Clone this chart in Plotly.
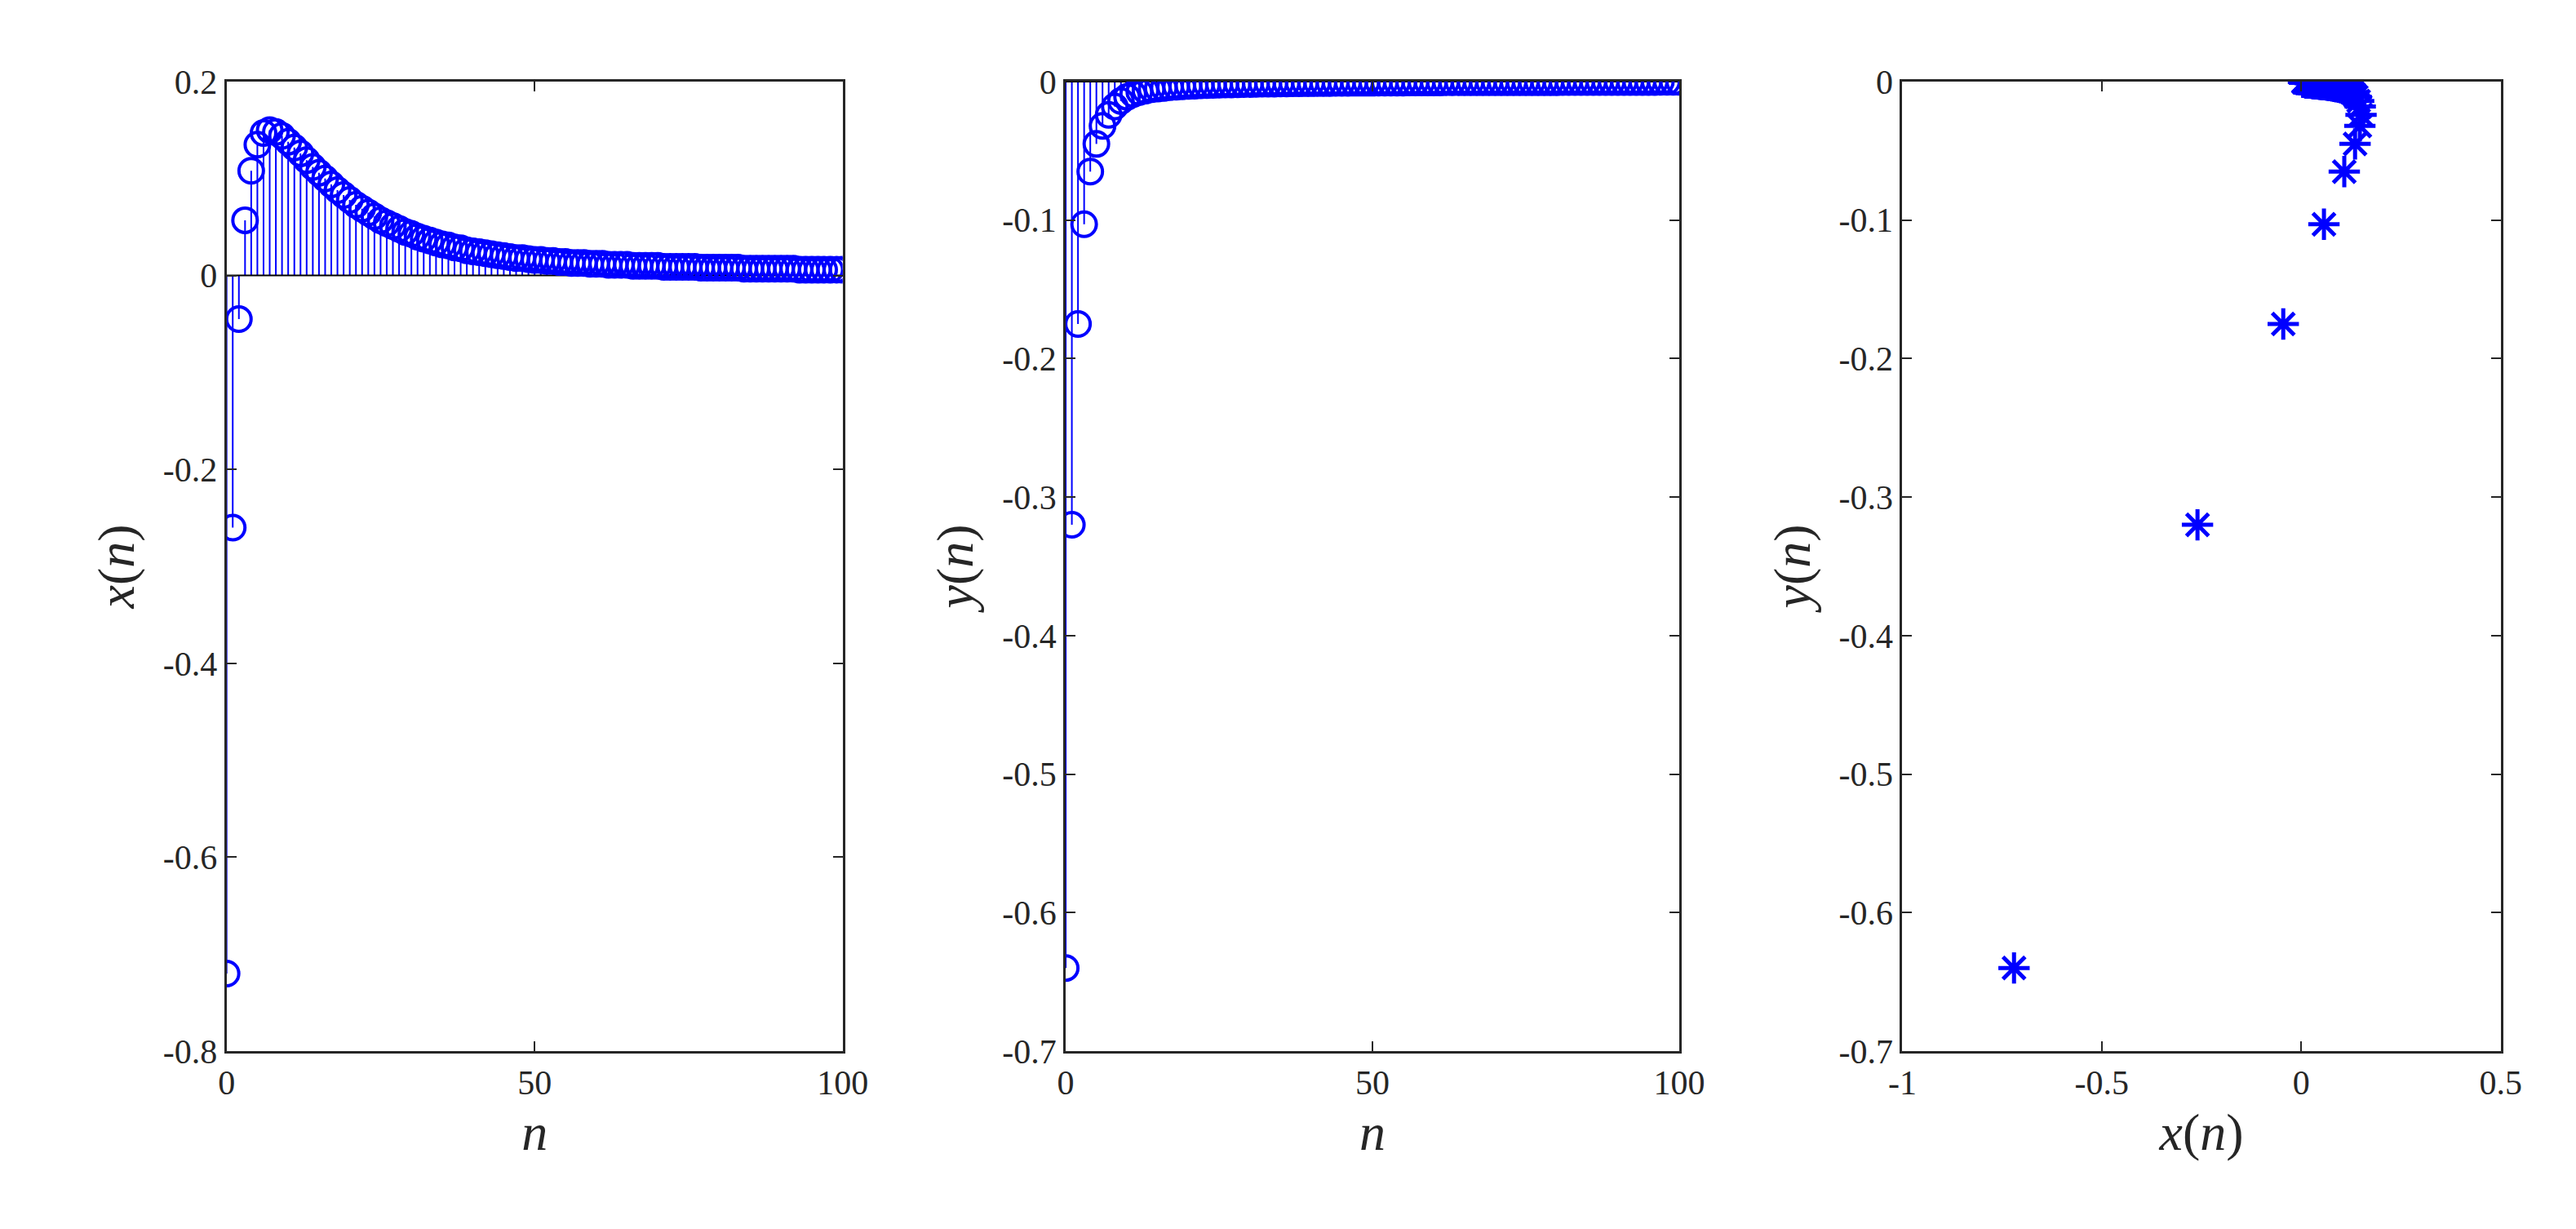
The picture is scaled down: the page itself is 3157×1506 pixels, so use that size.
import plotly.graph_objects as go

n = list(range(101))
x_vals = [-0.72, -0.26, -0.045, 0.057, 0.108, 0.135, 0.147, 0.150, 0.148, 0.144,
          0.138, 0.132, 0.126, 0.119, 0.112, 0.106, 0.100, 0.094, 0.088, 0.083,
          0.078, 0.073, 0.069, 0.065, 0.061, 0.057, 0.054, 0.051, 0.048, 0.045,
          0.043, 0.040, 0.038, 0.036, 0.034, 0.032, 0.031, 0.029, 0.028, 0.026,
          0.025, 0.024, 0.023, 0.022, 0.021, 0.020, 0.019, 0.018, 0.018, 0.017,
          0.016, 0.016, 0.015, 0.015, 0.014, 0.014, 0.013, 0.013, 0.013, 0.012,
          0.012, 0.012, 0.011, 0.011, 0.011, 0.011, 0.010, 0.010, 0.010, 0.010,
          0.010, 0.009, 0.009, 0.009, 0.009, 0.009, 0.009, 0.008, 0.008, 0.008,
          0.008, 0.008, 0.008, 0.008, 0.007, 0.007, 0.007, 0.007, 0.007, 0.007,
          0.007, 0.007, 0.007, 0.006, 0.006, 0.006, 0.006, 0.006, 0.006, 0.006, 0.006]
y_vals = [-0.64, -0.32, -0.175, -0.103, -0.065, -0.045, -0.032, -0.024, -0.018, -0.014,
          -0.011, -0.009, -0.0075, -0.0065, -0.0055, -0.005, -0.0045, -0.004, -0.0037, -0.0034,
          -0.0031, -0.0029, -0.0027, -0.0025, -0.0023, -0.0022, -0.0021, -0.002, -0.0019, -0.0018,
          -0.0017, -0.0016, -0.0015, -0.0015, -0.0014, -0.0013, -0.0013, -0.0012, -0.0012, -0.0011,
          -0.0011, -0.0010, -0.0010, -0.0010, -0.0009, -0.0009, -0.0009, -0.0008, -0.0008, -0.0008,
          -0.0008, -0.0007, -0.0007, -0.0007, -0.0007, -0.0007, -0.0006, -0.0006, -0.0006, -0.0006,
          -0.0006, -0.0006, -0.0005, -0.0005, -0.0005, -0.0005, -0.0005, -0.0005, -0.0005, -0.0005,
          -0.0004, -0.0004, -0.0004, -0.0004, -0.0004, -0.0004, -0.0004, -0.0004, -0.0004, -0.0004,
          -0.0004, -0.0003, -0.0003, -0.0003, -0.0003, -0.0003, -0.0003, -0.0003, -0.0003, -0.0003,
          -0.0003, -0.0003, -0.0003, -0.0003, -0.0003, -0.0003, -0.0003, -0.0002, -0.0002, -0.0002, -0.0002]

BLUE = "#0000ff"
FONT = "Liberation Serif"

def stems(xs, ys):
    sx, sy = [], []
    for a, b in zip(xs, ys):
        sx += [a, a, None]
        sy += [0, b, None]
    return sx, sy

fig = go.Figure()
for i, vals in enumerate([x_vals, y_vals]):
    ax = "" if i == 0 else "2"
    sx, sy = stems(n, vals)
    fig.add_trace(go.Scatter(x=sx, y=sy, mode="lines", line=dict(color=BLUE, width=2),
                             xaxis="x" + ax, yaxis="y" + ax, showlegend=False))
    fig.add_trace(go.Scatter(x=[0, 100], y=[0, 0], mode="lines", line=dict(color="black", width=2),
                             xaxis="x" + ax, yaxis="y" + ax, showlegend=False))
    fig.add_trace(go.Scatter(x=n, y=vals, mode="markers",
                             marker=dict(symbol="circle-open", size=30, color=BLUE, line=dict(width=4)),
                             xaxis="x" + ax, yaxis="y" + ax, showlegend=False))
fig.add_trace(go.Scatter(x=x_vals, y=y_vals, mode="markers",
                         marker=dict(symbol="asterisk-open", size=32, color=BLUE, line=dict(width=5, color=BLUE)),
                         xaxis="x3", yaxis="y3", showlegend=False))

common = dict(showgrid=False, zeroline=False, showline=True, linecolor="#262626", linewidth=3,
              mirror="ticks", ticks="inside", ticklen=12, tickwidth=2, tickcolor="#262626",
              tickfont=dict(family=FONT, size=42, color="#262626"))
lab = dict(family=FONT, size=64, color="#262626")
nlab = "<i>n</i>"
ticks07 = [-0.7, -0.6, -0.5, -0.4, -0.3, -0.2, -0.1, 0]
ticks07t = ["-0.7", "-0.6", "-0.5", "-0.4", "-0.3", "-0.2", "-0.1", "0"]
fig.update_layout(
    width=3157, height=1506, plot_bgcolor="white", paper_bgcolor="white",
    margin=dict(l=0, r=0, t=92, b=226),
    xaxis=dict(common, domain=[0.081, 0.324], range=[0, 100], tickvals=[0, 50, 100],
               title=dict(text=nlab, font=lab), anchor="y"),
    yaxis=dict(common, range=[-0.8, 0.2], tickvals=[-0.8, -0.6, -0.4, -0.2, 0, 0.2],
               ticktext=["-0.8", "-0.6", "-0.4", "-0.2", "0", "0.2"],
               title=dict(text="<i>x</i>(<i>n</i>)", font=lab), anchor="x"),
    xaxis2=dict(common, domain=[0.412, 0.654], range=[0, 100], tickvals=[0, 50, 100],
                title=dict(text=nlab, font=lab), anchor="y2"),
    yaxis2=dict(common, range=[-0.7, 0], tickvals=ticks07, ticktext=ticks07t,
                title=dict(text="<i>y</i>(<i>n</i>)", font=lab), anchor="x2"),
    xaxis3=dict(common, domain=[0.742, 0.978], range=[-1, 0.5], tickvals=[-1, -0.5, 0, 0.5],
                ticktext=["-1", "-0.5", "0", "0.5"],
                title=dict(text="<i>x</i>(<i>n</i>)", font=lab), anchor="y3"),
    yaxis3=dict(common, range=[-0.7, 0], tickvals=ticks07, ticktext=ticks07t,
                title=dict(text="<i>y</i>(<i>n</i>)", font=lab), anchor="x3"),
)
fig.write_html("out.html")
